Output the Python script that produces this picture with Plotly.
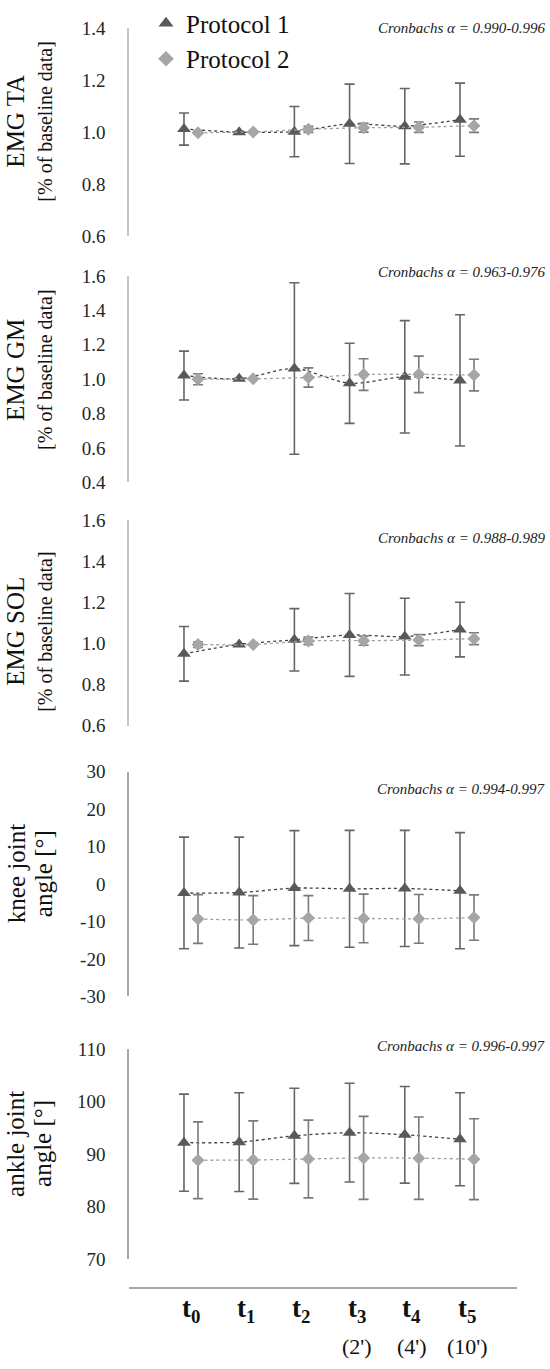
import plotly.graph_objects as go

# ---------------- data ----------------
categories = ["t0", "t1", "t2", "t3", "t4", "t5"]
tick_main = ["t", "t", "t", "t", "t", "t"]
tick_sub = ["0", "1", "2", "3", "4", "5"]
tick_second = ["", "", "", "(2')", "(4')", "(10')"]

ta_p1 = [1.012, 1.000, 1.002, 1.032, 1.023, 1.048]
ta_p1_sd = [0.062, 0.003, 0.097, 0.153, 0.145, 0.141]
ta_p2 = [0.998, 1.001, 1.011, 1.017, 1.019, 1.025]
ta_p2_sd = [0.005, 0.0, 0.012, 0.017, 0.020, 0.026]

gm_p1 = [1.021, 1.002, 1.062, 0.976, 1.014, 0.993]
gm_p1_sd = [0.142, 0.003, 0.499, 0.233, 0.327, 0.382]
gm_p2 = [1.000, 1.002, 1.010, 1.027, 1.028, 1.024]
gm_p2_sd = [0.032, 0.0, 0.056, 0.092, 0.106, 0.092]

sol_p1 = [0.950, 0.996, 1.018, 1.042, 1.034, 1.068]
sol_p1_sd = [0.133, 0.003, 0.152, 0.202, 0.187, 0.133]
sol_p2 = [0.995, 0.995, 1.013, 1.014, 1.017, 1.024]
sol_p2_sd = [0.014, 0.0, 0.019, 0.022, 0.027, 0.029]

knee_p1 = [-2.4, -2.3, -1.1, -1.3, -1.2, -1.8]
knee_p1_sd = [14.9, 14.8, 15.35, 15.6, 15.5, 15.5]
knee_p2 = [-9.35, -9.6, -9.1, -9.2, -9.3, -8.95]
knee_p2_sd = [6.5, 6.5, 6.0, 6.5, 6.5, 6.05]

ankle_p1 = [92.2, 92.3, 93.5, 94.1, 93.7, 92.85]
ankle_p1_sd = [9.25, 9.4, 9.05, 9.4, 9.2, 8.85]
ankle_p2 = [88.85, 88.9, 89.1, 89.3, 89.25, 89.05]
ankle_p2_sd = [7.3, 7.45, 7.4, 7.9, 7.85, 7.7]

ta_ticks = ["0.6", "0.8", "1.0", "1.2", "1.4"]
gm_ticks = ["0.4", "0.6", "0.8", "1.0", "1.2", "1.4", "1.6"]
sol_ticks = ["0.6", "0.8", "1.0", "1.2", "1.4", "1.6"]
knee_ticks = ["-30", "-20", "-10", "0", "10", "20", "30"]
ankle_ticks = ["70", "80", "90", "100", "110"]

cronbach = ["Cronbachs \u03b1 = 0.990-0.996", "Cronbachs \u03b1 = 0.963-0.976",
            "Cronbachs \u03b1 = 0.988-0.989", "Cronbachs \u03b1 = 0.994-0.997",
            "Cronbachs \u03b1 = 0.996-0.997"]
titles_line1 = ["EMG TA", "EMG GM", "EMG SOL", "knee joint", "ankle joint"]
titles_line2 = ["[% of baseline data]", "[% of baseline data]", "[% of baseline data]",
                "angle [\u00b0]", "angle [\u00b0]"]

panels = [
    (ta_p1, ta_p1_sd, ta_p2, ta_p2_sd, ta_ticks),
    (gm_p1, gm_p1_sd, gm_p2, gm_p2_sd, gm_ticks),
    (sol_p1, sol_p1_sd, sol_p2, sol_p2_sd, sol_ticks),
    (knee_p1, knee_p1_sd, knee_p2, knee_p2_sd, knee_ticks),
    (ankle_p1, ankle_p1_sd, ankle_p2, ankle_p2_sd, ankle_ticks),
]

# ---------------- layout geometry (pixels) ----------------
W, H = 550, 1369
panel_px = [(8.5, 221), (262, 473), (512, 722), (769, 999), (1053, 1268)]
title_center_px = [104, 358, 626, 874, 1150]
cron_px = [8, 258, 530, 787, 1050]
x_left_px, x_right_px = 129, 517
xaxis_line_px = 1297
cx, scale = 191, 55.2

FONT = "Liberation Serif"
P1_COLOR = "#595959"
P2_COLOR = "#a6a6a6"
P1_LINE = "#3f3f3f"
P2_LINE = "#a0a0a0"
ERR1 = "#666666"
ERR2 = "#7a7a7a"
AXIS_COLORS = ["#c4c4c4", "#c4c4c4", "#c4c4c4", "#a8a8a8", "#a8a8a8"]

idx = list(range(len(categories)))
off = 0.127
x1 = [i - off for i in idx]
x2 = [i + off for i in idx]
x_range = [-(cx - x_left_px) / scale, (x_right_px - cx) / scale]

fig = go.Figure()
layout = dict(
    width=W, height=H,
    margin=dict(l=0, r=0, t=0, b=0),
    paper_bgcolor="white", plot_bgcolor="white",
    showlegend=True,
    font=dict(family=FONT, color="#222222"),
)

annotations = []
for k, (p1, p1sd, p2, p2sd, tlabels) in enumerate(panels):
    n = "" if k == 0 else str(k + 1)
    xa, ya = "x" + n, "y" + n
    top, bot = panel_px[k]
    fig.add_trace(go.Scatter(
        x=x1, y=p1, xaxis=xa, yaxis=ya, mode="lines+markers", showlegend=False,
        line=dict(color=P1_LINE, width=1.3, dash="dot", shape="spline", smoothing=0.8),
        marker=dict(symbol="triangle-up", size=12, color=P1_COLOR),
        error_y=dict(type="data", array=p1sd, color=ERR1, thickness=1.6, width=5),
    ))
    fig.add_trace(go.Scatter(
        x=x2, y=p2, xaxis=xa, yaxis=ya, mode="lines+markers", showlegend=False,
        line=dict(color=P2_LINE, width=1.3, dash="dot", shape="spline", smoothing=0.8),
        marker=dict(symbol="diamond", size=10, color=P2_COLOR),
        error_y=dict(type="data", array=p2sd, color=ERR2, thickness=1.6, width=5),
    ))
    tvals = [float(t) for t in tlabels]
    layout["xaxis" + n] = dict(
        domain=[x_left_px / W, x_right_px / W], range=x_range,
        anchor=ya, showgrid=False, zeroline=False, showticklabels=False,
        showline=False, ticks="", fixedrange=True,
    )
    layout["yaxis" + n] = dict(
        domain=[1 - bot / H, 1 - top / H],
        range=[tvals[0], tvals[-1]],
        tickmode="array", tickvals=tvals, ticktext=tlabels,
        anchor=xa, showgrid=False, zeroline=False,
        showline=True, linecolor=AXIS_COLORS[k], linewidth=1.5,
        ticks="", ticklabelstandoff=18,
        tickfont=dict(family=FONT, size=19, color="#262626"),
        fixedrange=True,
    )
    annotations.append(dict(
        text=titles_line1[k], xref="paper", yref="paper",
        x=16 / W, y=1 - title_center_px[k] / H, xanchor="center", yanchor="middle",
        textangle=-90, showarrow=False,
        font=dict(family=FONT, size=25, color="#111111"),
    ))
    annotations.append(dict(
        text=titles_line2[k], xref="paper", yref="paper",
        x=(45 if k < 3 else 43) / W, y=1 - title_center_px[k] / H,
        xanchor="center", yanchor="middle",
        textangle=-90, showarrow=False,
        font=dict(family=FONT, size=(20 if k < 3 else 25), color="#111111"),
    ))
    annotations.append(dict(
        text="<i>" + cronbach[k] + "</i>", xref="paper", yref="paper",
        x=548 / W, y=1 - cron_px[k] / H, xanchor="right", yanchor="middle",
        showarrow=False, font=dict(family=FONT, size=15, color="#222222"),
    ))

# bottom category axis (free-positioned line)
layout["xaxis6"] = dict(
    domain=[x_left_px / W, x_right_px / W], range=x_range,
    anchor="free", position=1 - xaxis_line_px / H,
    showline=True, linecolor="#a8a8a8", linewidth=1.5,
    showgrid=False, zeroline=False, showticklabels=False, ticks="",
    overlaying="x5", fixedrange=True,
)
for i in idx:
    annotations.append(dict(
        text="<b>" + tick_main[i] + "<sub>" + tick_sub[i] + "</sub></b>",
        xref="x6", yref="paper", x=i, y=1 - 1320 / H,
        xanchor="center", yanchor="middle", showarrow=False,
        font=dict(family=FONT, size=27, color="#111111"),
    ))
    if tick_second[i]:
        annotations.append(dict(
            text=tick_second[i], xref="x6", yref="paper", x=i, y=1 - 1357 / H,
            xanchor="center", yanchor="middle", showarrow=False,
            font=dict(family=FONT, size=22, color="#111111"),
        ))

# legend entries (markers only)
fig.add_trace(go.Scatter(x=[None], y=[None], mode="markers", name="Protocol 1",
                         marker=dict(symbol="triangle-up", size=13, color=P1_COLOR)))
fig.add_trace(go.Scatter(x=[None], y=[None], mode="markers", name="Protocol 2",
                         marker=dict(symbol="diamond", size=12, color=P2_COLOR)))
fig.add_trace(go.Scatter(x=[None], y=[None], xaxis="x6", yaxis="y5", showlegend=False))

layout["legend"] = dict(
    x=146 / W, y=1 + 20 / H, xanchor="left", yanchor="top",
    font=dict(family=FONT, size=25, color="#111111"),
    bgcolor="rgba(0,0,0,0)", tracegroupgap=0, itemwidth=30,
)
layout["annotations"] = annotations
fig.update_layout(**layout)
fig.write_html(
    "out.html",
    config={"displayModeBar": False},
    post_script="document.body.style.margin='0';document.body.style.overflow='hidden';",
)
